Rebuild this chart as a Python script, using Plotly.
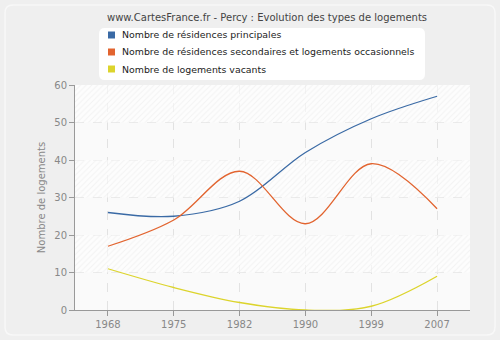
import plotly.graph_objects as go

# Census years and housing counts for Percy
years = ["1968", "1975", "1982", "1990", "1999", "2007"]
principales = [26, 25, 29, 42, 51, 57]
secondaires = [17, 24, 37, 23, 39, 27]
vacants = [11, 6, 2, 0, 1, 9]

series_names = [
    "Nombre de résidences principales",
    "Nombre de résidences secondaires et logements occasionnels",
    "Nombre de logements vacants",
]
series_colors = ["#3a6aa5", "#e2642f", "#dcd42c"]

W, H = 500, 340
ML, MR, MT, MB = 75, 30, 85, 30
PW, PH = W - ML - MR, H - MT - MB
FONT = "DejaVu Sans, Verdana, sans-serif"


def px_to_paper(px, py):
    return (px - ML) / PW, (H - MB - py) / PH


def rounded_path(x0, y0, x1, y1, r):
    def P(x, y):
        a, b = px_to_paper(x, y)
        return f"{a:.5f},{b:.5f}"
    return (
        f"M {P(x0 + r, y0)} L {P(x1 - r, y0)} Q {P(x1, y0)} {P(x1, y0 + r)} "
        f"L {P(x1, y1 - r)} Q {P(x1, y1)} {P(x1 - r, y1)} "
        f"L {P(x0 + r, y1)} Q {P(x0, y1)} {P(x0, y1 - r)} "
        f"L {P(x0, y0 + r)} Q {P(x0, y0)} {P(x0 + r, y0)} Z"
    )


xi = list(range(len(years)))
fig = go.Figure()

# hatched horizontal bands behind the curves
fig.add_trace(go.Bar(
    x=[2.5, 2.5, 2.5], y=[10, 10, 10], base=[10, 30, 50], width=6,
    marker=dict(color="rgba(0,0,0,0)", line=dict(width=0),
                pattern=dict(shape="/", size=4, solidity=0.25,
                             fgcolor="#e8e8e8", bgcolor="rgba(255,255,255,0.6)")),
    hoverinfo="skip", showlegend=False,
))

for vals, name, col in zip([principales, secondaires, vacants], series_names, series_colors):
    fig.add_trace(go.Scatter(
        x=xi, y=vals, mode="lines", name=name,
        line=dict(color=col, width=1.3, shape="spline", smoothing=1.0),
        showlegend=False, cliponaxis=True,
    ))

# outer frame and legend box
shapes = [
    dict(type="path", xref="paper", yref="paper", layer="below",
         path=rounded_path(5, 5, 495, 335, 8),
         fillcolor="rgba(0,0,0,0)", line=dict(color="#f8f8f8", width=1.5)),
    dict(type="path", xref="paper", yref="paper", layer="below",
         path=rounded_path(99, 28, 425, 80, 6),
         fillcolor="#ffffff", line=dict(width=0)),
]
annotations = []
legend_rows = [35, 52, 69]
for name, col, ry in zip(series_names, series_colors, legend_rows):
    x0, y0 = px_to_paper(108, ry - 3.5)
    x1, y1 = px_to_paper(115, ry + 3.5)
    shapes.append(dict(type="rect", xref="paper", yref="paper",
                       x0=x0, y0=y1, x1=x1, y1=y0,
                       fillcolor=col, line=dict(width=0)))
    ax, ay = px_to_paper(120, ry)
    annotations.append(dict(text=name, xref="paper", yref="paper", x=ax, y=ay,
                            xanchor="left", yanchor="middle", showarrow=False,
                            font=dict(family=FONT, size=9.4, color="#222222")))

fig.update_layout(
    width=W, height=H,
    margin=dict(l=ML, r=MR, t=MT, b=MB, autoexpand=False),
    paper_bgcolor="#efefef",
    plot_bgcolor="#fafafa",
    font=dict(family=FONT, size=10, color="#888888"),
    title=dict(text="www.CartesFrance.fr - Percy : Evolution des types de logements",
               x=0.534, xref="container", xanchor="center",
               y=1 - 17 / H, yref="container", yanchor="middle",
               font=dict(size=10, color="#444444")),
    barmode="overlay",
    showlegend=False,
    shapes=shapes,
    annotations=annotations,
    xaxis=dict(range=[-0.5, 5.5], tickvals=xi, ticktext=years,
               showline=True, linecolor="#999999", linewidth=1,
               ticks="outside", ticklen=5, tickcolor="#999999",
               showgrid=True, gridcolor="#e2e2e2", griddash="dash", gridwidth=1,
               zeroline=False, fixedrange=True,
               tickfont=dict(size=10, color="#888888")),
    yaxis=dict(range=[0, 60], tickvals=[0, 10, 20, 30, 40, 50, 60],
               showline=True, linecolor="#999999", linewidth=1,
               ticks="outside", ticklen=5, tickcolor="#999999",
               showgrid=True, gridcolor="#e2e2e2", griddash="dash", gridwidth=1,
               zeroline=False, fixedrange=True,
               title=dict(text="Nombre de logements", font=dict(size=10, color="#888888"),
                          standoff=6),
               tickfont=dict(size=10, color="#888888")),
)

fig.write_html("out.html")
